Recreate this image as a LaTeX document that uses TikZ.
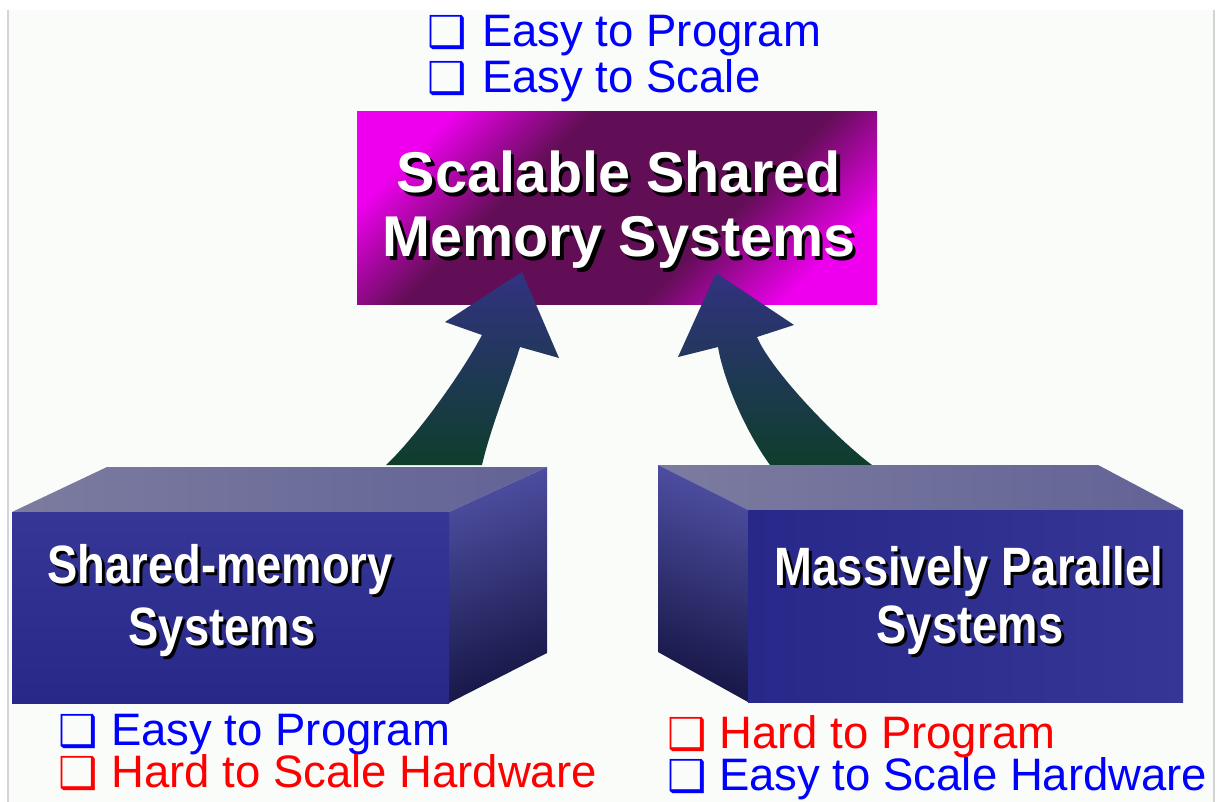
\documentclass[tikz,border=0pt]{standalone}
\usepackage{fontspec}
\setmainfont{Liberation Sans}
\newfontfamily\symbfont{DejaVu Sans}
\usetikzlibrary{calc}

\definecolor{pagebg}{RGB}{250,252,250}
\definecolor{framegray}{RGB}{212,212,212}
\definecolor{listblue}{RGB}{0,0,255}
\definecolor{listred}{RGB}{255,0,0}
\definecolor{magbright}{RGB}{238,0,238}
\definecolor{magdark}{RGB}{98,14,86}
\definecolor{facefront}{RGB}{40,40,138}
\definecolor{facefrontlt}{RGB}{54,54,150}
\definecolor{facetoplt}{RGB}{124,124,160}
\definecolor{facetopdk}{RGB}{98,98,150}
\definecolor{facesidelt}{RGB}{78,78,162}
\definecolor{facesidedk}{RGB}{22,22,70}
\definecolor{arrowtip}{RGB}{50,50,130}
\definecolor{arrowmid}{RGB}{22,16,78}
\definecolor{arrowbase}{RGB}{14,62,44}

% diagonal magenta band for the title panel
\pgfdeclareverticalshading{titleband}{100bp}{%
  color(0bp)=(magbright); color(24bp)=(magbright); color(38bp)=(magdark);
  color(62bp)=(magdark); color(76bp)=(magbright); color(100bp)=(magbright)}

\tikzset{
  listtext/.style={anchor=base west, inner sep=0pt, font=\fontsize{45.5}{45.5}\selectfont},
  listbullet/.style={anchor=base west, inner sep=0pt, font=\symbfont\fontsize{44}{44}\selectfont},
  titletext/.style={anchor=base, inner sep=0pt, font=\bfseries\fontsize{57.5}{57.5}\selectfont},
  boxtext/.style={anchor=base, inner sep=0pt, xscale=0.84, font=\bfseries\fontsize{54}{54}\selectfont},
  arrowfill/.style={top color=arrowtip, middle color=arrowmid, bottom color=arrowbase},
}

\begin{document}
\begin{tikzpicture}[x=1pt,y=-1pt]
\useasboundingbox (0,0) rectangle (1217,802);
\fill[white] (0,0) rectangle (1217,802);
\fill[pagebg] (8,10) rectangle (1214,802);
\draw[framegray, line width=2.2pt] (8,10) -- (8,802) (1214,10) -- (1214,802);

% title panel
\node[shade, shading=titleband, shading angle=45, minimum width=520pt, minimum height=192pt,
      inner sep=0pt] (ssm) at (617,208) {};
\node[titletext, black] (ssm1s) at (622.5,196.5) {Scalable Shared};
\node[titletext, white] (ssm1) at (619,193) {Scalable Shared};
\node[titletext, black] (ssm2s) at (622.5,260.5) {Memory Systems};
\node[titletext, white] (ssm2) at (619,257) {Memory Systems};

% curved arrows rising from the two boxes
\shade[arrowfill] (386,465) .. controls (416,437) and (462,373) .. (482,335)
  -- (445,322) -- (522,272) -- (559,358) -- (520,347)
  .. controls (508,385) and (490,430) .. (482,465) -- cycle;
\shade[arrowfill] (872,465) .. controls (838,440) and (772,372) .. (757,337)
  -- (794,325) -- (716,273) -- (678,357) -- (718,347)
  .. controls (724,382) and (746,432) .. (770,465) -- cycle;

% left block
\shade[left color=facetoplt, right color=facetopdk] (12,512) -- (107,467) -- (547,467) -- (449,512) -- cycle;
\shade[top color=facesidelt, bottom color=facesidedk, shading angle=20] (449,512) -- (547,467) -- (547,653) -- (449,703) -- cycle;
\shade[top color=facefrontlt, bottom color=facefront] (12,512) rectangle (449,703);
\node[boxtext, black] (smp1s) at (223,586) {Shared-memory};
\node[boxtext, white] (smp1) at (220,583) {Shared-memory};
\node[boxtext, black] (smp2s) at (225,648) {Systems};
\node[boxtext, white] (smp2) at (222,645) {Systems};

% right block
\shade[left color=facetoplt, right color=facetopdk] (748,510) -- (658,465) -- (1098,465) -- (1183,510) -- cycle;
\shade[top color=facesidelt, bottom color=facesidedk, shading angle=-20] (658,465) -- (748,510) -- (748,702) -- (658,652) -- cycle;
\shade[left color=facefront, right color=facefrontlt] (748,510) rectangle (1183,702);
\node[boxtext, black] (mpp1s) at (972,588) {Massively Parallel};
\node[boxtext, white] (mpp1) at (969,585) {Massively Parallel};
\node[boxtext, black] (mpp2s) at (973,646) {Systems};
\node[boxtext, white] (mpp2) at (970,643) {Systems};

% pros and cons
\node[listbullet, listblue] (tb1) at (427,48) {❑};
\node[listtext, listblue] (tt1) at (482,47) {Easy to Program};
\node[listbullet, listblue] (tb2) at (427,94) {❑};
\node[listtext, listblue] (tt2) at (482,93) {Easy to Scale};

\node[listbullet, listblue] (lb1) at (58,746) {❑};
\node[listtext, listblue] (lt1) at (111,745) {Easy to Program};
\node[listbullet, listred] (lb2) at (58,788) {❑};
\node[listtext, listred] (lt2) at (111,787) {Hard to Scale Hardware};

\node[listbullet, listred] (rb1) at (667,749) {❑};
\node[listtext, listred] (rt1) at (719,748) {Hard to Program};
\node[listbullet, listblue] (rb2) at (667,791) {❑};
\node[listtext, listblue] (rt2) at (719,790) {Easy to Scale Hardware};
\end{tikzpicture}
\end{document}
